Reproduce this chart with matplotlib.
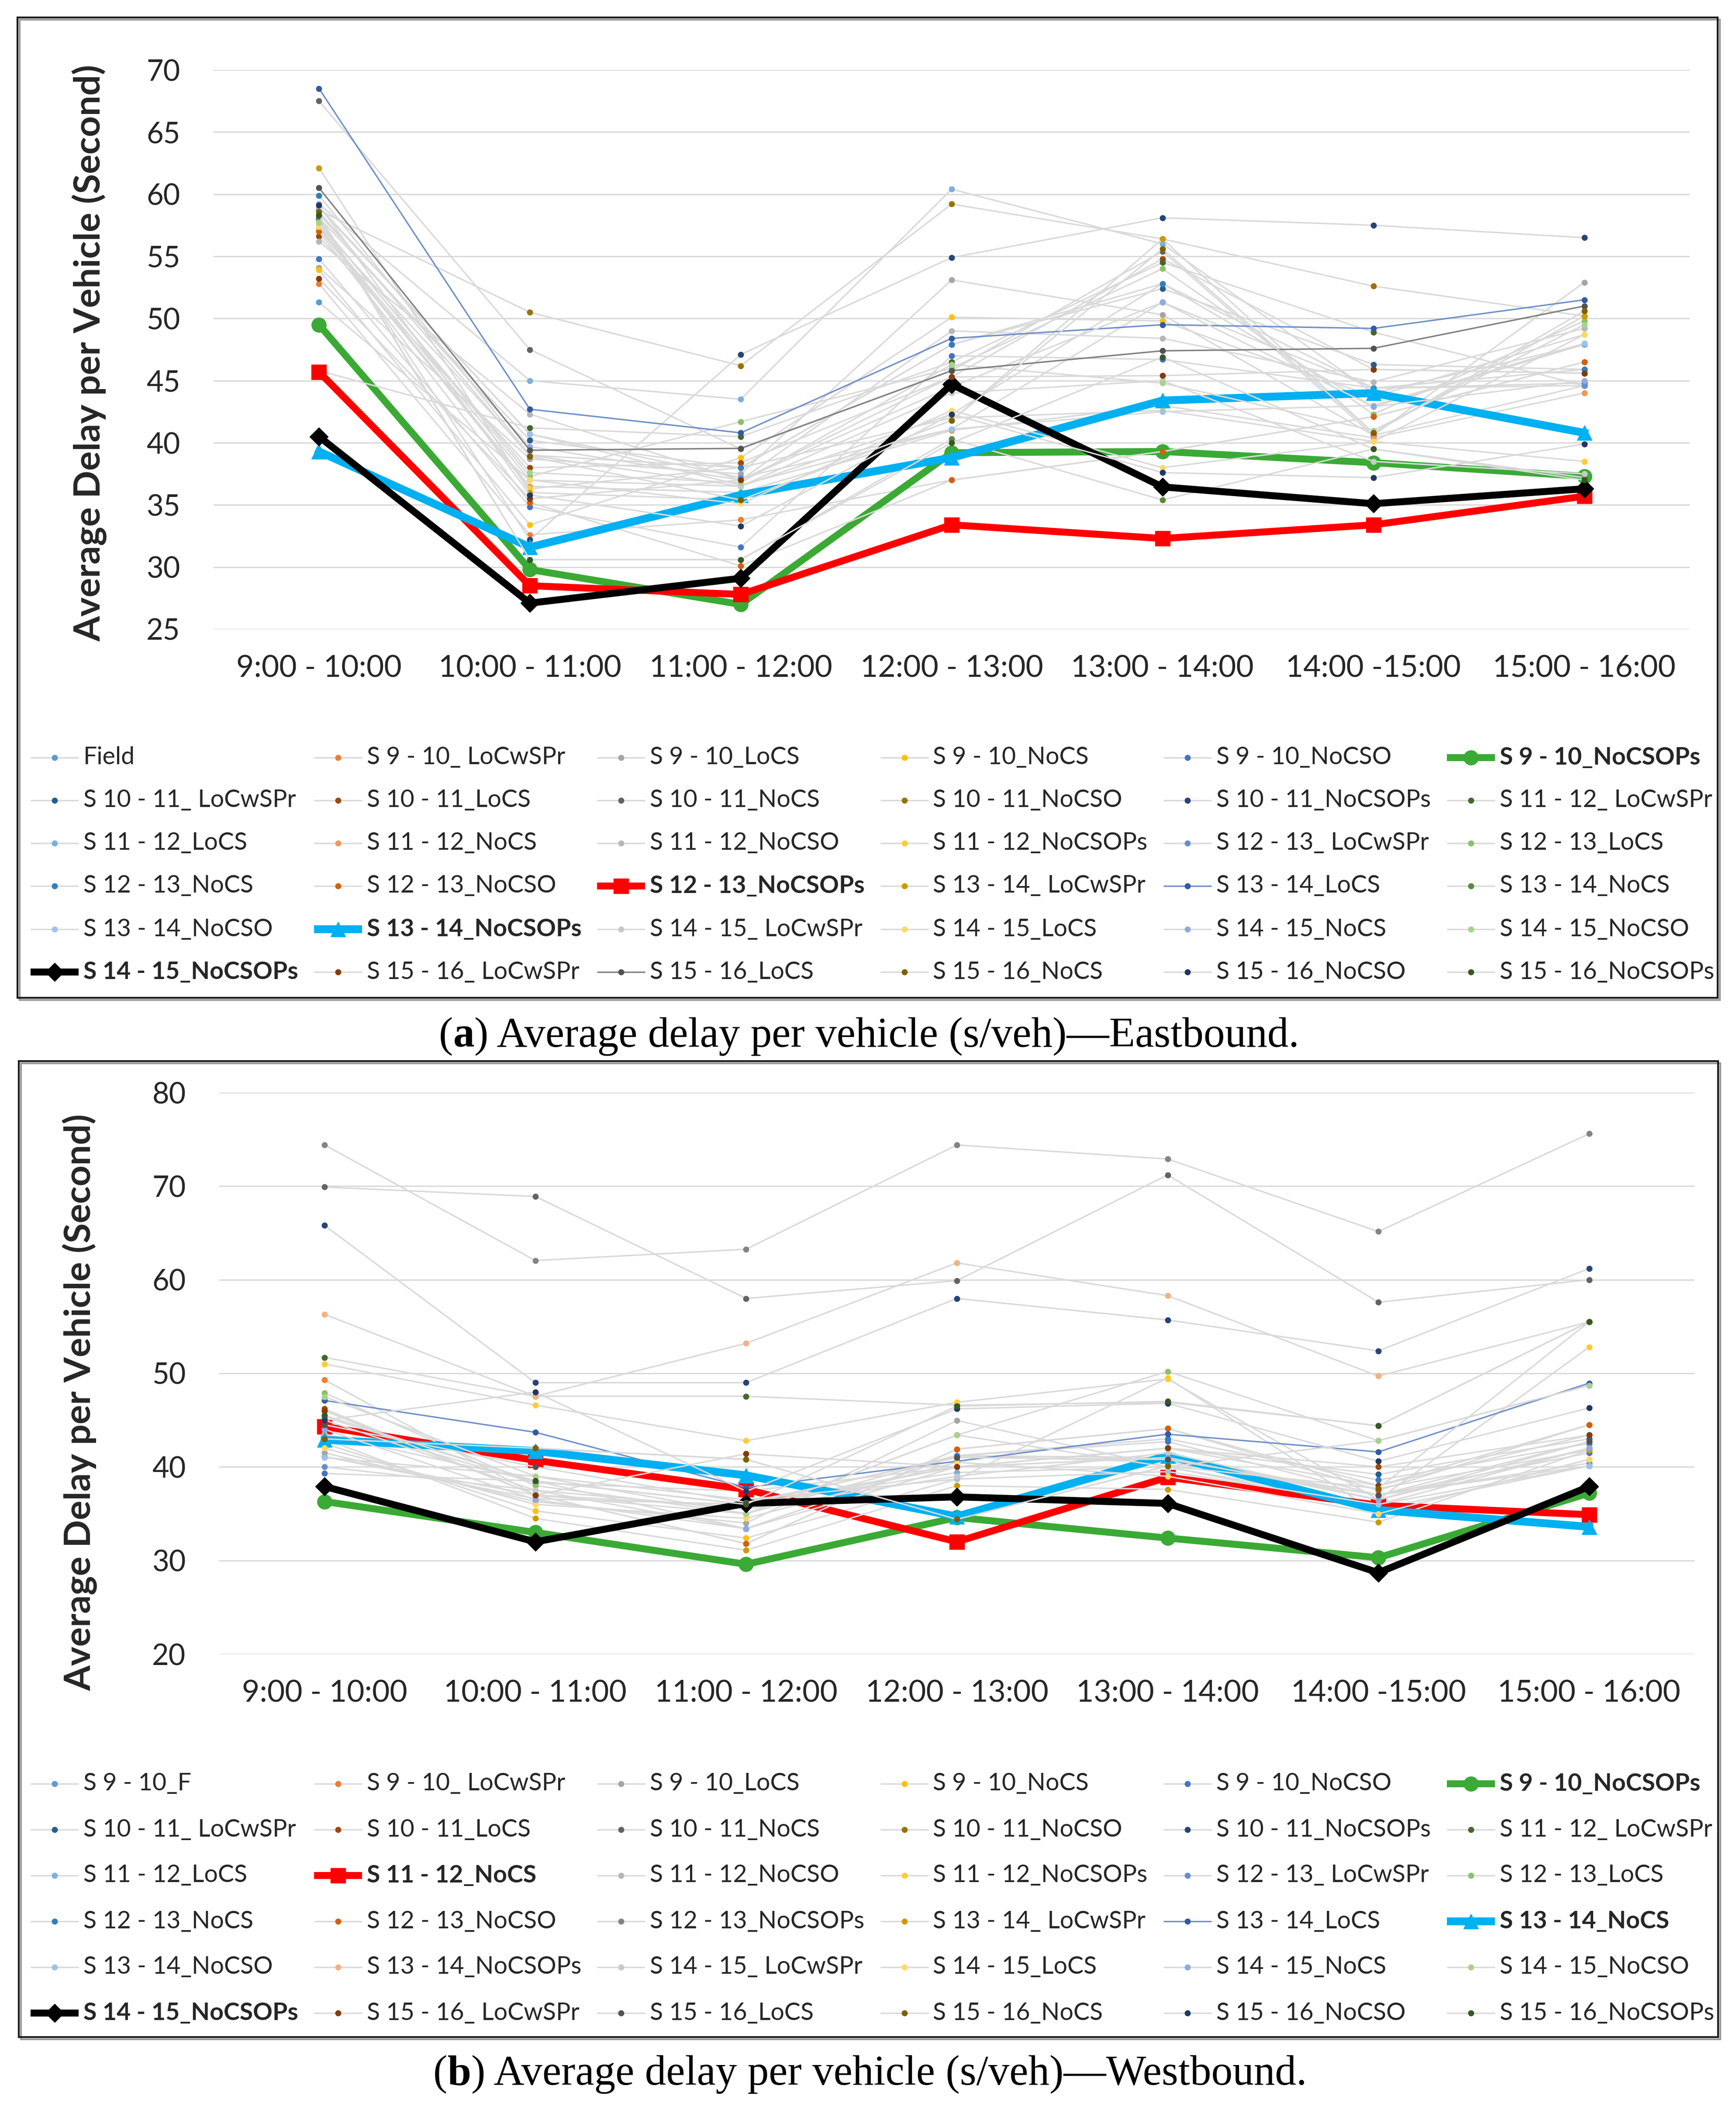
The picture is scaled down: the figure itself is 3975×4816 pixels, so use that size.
import matplotlib
matplotlib.use("Agg")
import matplotlib.pyplot as plt
from matplotlib.patches import Rectangle

plt.rcParams['font.family'] = ['Lato', 'DejaVu Sans']

W, H = 3975, 4816

# ---- data ----
periods = ["9:00 - 10:00", "10:00 - 11:00", "11:00 - 12:00", "12:00 - 13:00",
           "13:00 - 14:00", "14:00 -15:00", "15:00 - 16:00"]

scenarios = ["LoCwSPr", "LoCS", "NoCS", "NoCSO", "NoCSOPs"]


def scenario_labels(first):
    out = [first]
    for h in range(9, 16):
        for s in scenarios:
            sep = "_ " if s == "LoCwSPr" else "_"
            out.append(f"S {h} - {h + 1}{sep}{s}")
    return out


east_labels = scenario_labels("Field")
west_labels = scenario_labels("S 9 - 10_F")

# Eastbound, one row per series (legend order)
east_delay = [
    [51.3, 37.0, 36.5, 42.3, 52.8, 42.9, 47.9],
    [52.8, 32.6, 33.8, 37.0, 39.3, 42.1, 46.5],
    [54.1, 38.7, 37.5, 53.1, 50.3, 40.6, 52.9],
    [53.9, 33.4, 38.8, 50.1, 49.8, 43.7, 48.7],
    [54.8, 34.85, 31.6, 47.0, 46.7, 44.4, 44.8],
    [49.5, 29.8, 27.0, 39.2, 39.3, 38.4, 37.3],
    [58.1, 40.2, 38.0, 47.9, 52.4, 46.3, 45.9],
    [56.6, 38.0, 38.4, 45.3, 54.8, 45.9, 45.6],
    [67.5, 47.5, 39.5, 45.8, 55.4, 40.6, 44.6],
    [58.7, 50.5, 46.2, 59.2, 56.4, 52.6, 50.2],
    [58.0, 32.2, 47.1, 54.9, 58.1, 57.5, 56.5],
    [45.8, 41.2, 40.5, 46.5, 54.5, 48.9, 44.6],
    [59.2, 45.0, 43.5, 60.4, 56.0, 44.0, 47.9],
    [57.3, 36.5, 36.0, 41.0, 43.0, 40.4, 44.0],
    [56.2, 42.3, 37.0, 49.0, 48.4, 44.9, 49.2],
    [57.2, 36.3, 38.0, 42.0, 42.6, 40.1, 38.5],
    [58.9, 40.7, 37.2, 41.1, 51.3, 44.4, 44.6],
    [57.8, 37.3, 41.7, 46.0, 54.0, 42.3, 49.8],
    [59.9, 39.0, 38.0, 47.9, 52.8, 44.4, 45.9],
    [57.0, 35.2, 30.1, 37.0, 39.3, 42.1, 46.5],
    [45.7, 28.5, 27.8, 33.4, 32.3, 33.4, 35.7],
    [62.1, 36.0, 35.4, 41.8, 56.4, 40.8, 50.2],
    [68.5, 42.7, 40.8, 48.4, 49.5, 49.2, 51.5],
    [58.2, 30.6, 30.6, 40.3, 35.4, 39.5, 37.2],
    [59.0, 40.7, 36.6, 41.1, 42.5, 43.0, 48.0],
    [39.3, 31.6, 35.8, 38.8, 43.4, 44.0, 40.8],
    [57.5, 39.0, 36.5, 44.0, 45.0, 38.5, 37.5],
    [57.4, 37.0, 35.1, 42.6, 38.0, 40.1, 48.7],
    [58.4, 39.7, 37.0, 44.5, 51.3, 42.9, 45.0],
    [57.7, 37.6, 36.8, 46.3, 44.8, 41.0, 49.5],
    [40.5, 27.1, 29.1, 44.7, 36.45, 35.1, 36.3],
    [53.2, 35.5, 37.0, 45.3, 45.4, 45.9, 45.6],
    [60.5, 39.4, 39.55, 45.8, 47.4, 47.6, 51.0],
    [58.6, 38.9, 35.4, 41.8, 55.6, 40.8, 50.6],
    [59.1, 35.8, 33.3, 42.3, 37.6, 37.2, 39.9],
    [58.3, 30.6, 30.6, 40.0, 46.9, 39.5, 37.0],
]

# Westbound, one row per series (legend order)
west_delay = [
    [41.1, 37.0, 35.0, 41.2, 40.5, 37.0, 40.1],
    [49.3, 37.0, 31.8, 41.9, 44.1, 38.0, 44.5],
    [41.5, 36.3, 34.0, 44.95, 40.0, 36.0, 42.0],
    [42.5, 35.3, 32.4, 38.7, 49.5, 35.0, 40.8],
    [39.3, 38.5, 33.4, 41.2, 42.7, 37.0, 41.5],
    [36.3, 33.0, 29.6, 34.6, 32.4, 30.3, 37.2],
    [44.8, 38.3, 37.4, 40.0, 42.0, 39.2, 43.0],
    [46.2, 37.0, 35.7, 40.0, 42.0, 40.0, 43.4],
    [69.9, 68.9, 58.0, 59.9, 71.2, 57.6, 60.0],
    [43.0, 42.0, 40.8, 34.4, 40.1, 37.7, 41.8],
    [65.8, 49.0, 49.0, 58.0, 55.7, 52.4, 61.2],
    [51.7, 47.55, 47.55, 46.6, 46.9, 44.4, 55.5],
    [41.1, 36.6, 36.0, 39.4, 40.0, 35.5, 40.1],
    [44.3, 40.7, 37.6, 32.0, 38.9, 35.9, 34.9],
    [43.5, 38.5, 36.0, 40.0, 41.0, 36.5, 42.0],
    [51.0, 46.6, 42.8, 46.9, 49.4, 36.5, 52.8],
    [40.0, 37.5, 33.4, 41.2, 41.0, 37.0, 40.4],
    [47.9, 38.0, 35.0, 43.4, 50.2, 42.8, 48.7],
    [45.3, 38.5, 36.0, 41.2, 43.0, 38.6, 42.5],
    [46.0, 37.0, 31.8, 41.9, 44.1, 37.5, 44.5],
    [74.4, 62.05, 63.26, 74.4, 72.9, 65.15, 75.6],
    [43.0, 34.5, 31.1, 38.0, 37.6, 34.1, 41.8],
    [47.1, 43.7, 37.8, 40.6, 43.5, 41.6, 48.95],
    [42.9, 41.7, 39.1, 34.7, 41.2, 35.4, 33.6],
    [41.0, 39.0, 36.5, 38.7, 39.5, 36.0, 40.1],
    [56.3, 47.55, 53.2, 61.8, 58.3, 49.7, 55.5],
    [45.0, 37.5, 35.5, 39.0, 41.5, 36.5, 42.7],
    [42.0, 36.0, 34.5, 40.5, 39.0, 35.0, 40.8],
    [44.0, 36.5, 33.4, 40.0, 41.0, 36.5, 42.0],
    [47.5, 39.0, 35.0, 43.4, 40.0, 42.8, 48.7],
    [37.9, 32.0, 36.1, 36.8, 36.1, 28.7, 37.9],
    [46.0, 37.0, 41.4, 40.0, 42.0, 38.0, 43.4],
    [44.5, 40.0, 36.2, 41.0, 40.8, 37.0, 42.7],
    [43.0, 42.0, 40.8, 34.4, 40.1, 37.7, 55.5],
    [45.0, 48.0, 37.4, 46.2, 46.8, 40.6, 46.3],
    [45.5, 38.5, 36.0, 46.5, 47.0, 44.4, 55.5],
]

# Excel-like series colours
palette = ["#5B9BD5", "#ED7D31", "#A5A5A5", "#FFC000", "#4472C4", "#70AD47",
           "#255E91", "#9E480E", "#636363", "#997300", "#264478", "#43682B",
           "#7CAFDD", "#F1975A", "#B7B7B7", "#FFCD33", "#698ED0", "#8CC168",
           "#327DC2", "#D26012", "#848484", "#CC9A00", "#335AA1", "#5A8A39",
           "#9DC3E6", "#F4B183", "#C9C9C9", "#FFD966", "#8FAADC", "#A9D18E",
           "#1F4E79", "#843C0C", "#525252", "#7F6000", "#203864", "#385723"]

GREEN, RED, CYAN, BLACK = "#3AAA35", "#FF0000", "#00B0F0", "#000000"
east_highlight = {5: (GREEN, "o"), 20: (RED, "s"), 25: (CYAN, "^"), 30: (BLACK, "D")}
west_highlight = {5: (GREEN, "o"), 13: (RED, "s"), 23: (CYAN, "^"), 30: (BLACK, "D")}
east_lines = {22: "#7090C8", 32: "#808080"}
west_lines = {22: "#7090C8"}

GREY_LINE = "#D9D9D9"
TXT = "#262626"


def series_style(i, highlight, lines):
    if i in highlight:
        c, m = highlight[i]
        ms = 24 if m != "D" else 21
        lw = 13 if c == CYAN else 11.5
        return dict(color=c, lw=lw, marker=m, ms=ms, mfc=c, mec=c)
    return dict(color=lines.get(i, GREY_LINE), lw=2.4, marker="o", ms=9,
                mfc=palette[i], mec=palette[i])


def draw_panel(ax, delay, highlight, lines, ylim, yticks):
    x = list(range(len(periods)))
    for i, vals in enumerate(delay):
        ax.plot(x, vals, solid_joinstyle="round", **series_style(i, highlight, lines))
    ax.set_xlim(-0.5, len(periods) - 0.5)
    ax.set_ylim(*ylim)
    ax.set_yticks(yticks)
    ax.set_xticks(x)
    ax.set_xticklabels(periods)
    ax.yaxis.grid(True, color="#D9D9D9", lw=2.2)
    ax.set_axisbelow(True)
    for s in ax.spines.values():
        s.set_visible(False)
    ax.tick_params(axis="both", length=0, labelsize=48, labelcolor=TXT)
    ax.tick_params(axis="x", labelsize=50, pad=42)
    ax.tick_params(axis="y", pad=55)


def draw_legend(ov, labels, highlight, lines, rows):
    for i, lab in enumerate(labels):
        r, c = divmod(i, 6)
        y = rows[r]
        x0 = 70 + 648.5 * c
        st = series_style(i, highlight, lines)
        ov.plot([x0, x0 + 110], [y, y], color=st["color"], lw=st["lw"],
                solid_capstyle="butt")
        ov.plot([x0 + 55], [y], marker=st["marker"], ms=st["ms"],
                mfc=st["mfc"], mec=st["mec"], ls="none")
        ov.text(x0 + 121, y, lab, va="center", ha="left", fontsize=40,
                color=TXT, fontweight="bold" if i in highlight else "normal")


def caption(ov, fig, letter, rest, cx, cy):
    kw = dict(fontsize=70, family="Liberation Serif", color="black")
    t1 = ov.text(0, cy, "(", va="baseline", ha="left", **kw)
    t2 = ov.annotate(letter, xy=(1, 0), xycoords=t1, va="bottom", ha="left",
                     fontweight="bold", **kw)
    t3 = ov.annotate(") " + rest, xy=(1, 0), xycoords=t2, va="bottom", ha="left", **kw)
    fig.canvas.draw()
    rend = fig.canvas.get_renderer()
    left = t1.get_window_extent(rend).x0
    right = t3.get_window_extent(rend).x1
    t1.set_x(cx - (right - left) / 2)


fig = plt.figure(figsize=(W / 100, H / 100), dpi=100)

ax_a = fig.add_axes([489 / W, 1 - 1441 / H, 3380 / W, 1281 / H])
draw_panel(ax_a, east_delay, east_highlight, east_lines, (25, 70), range(25, 71, 5))

ax_b = fig.add_axes([502 / W, 1 - 3788 / H, 3378 / W, 1286 / H])
draw_panel(ax_b, west_delay, west_highlight, west_lines, (20, 80), range(20, 81, 10))

# overlay in pixel coordinates for frames, legends, labels and captions
ov = fig.add_axes([0, 0, 1, 1])
ov.set_xlim(0, W)
ov.set_ylim(H, 0)
ov.set_axis_off()

for (x0, y0, x1, y1) in [(40, 40, 3933, 2285), (43, 2430, 3934, 4665)]:
    ov.add_patch(Rectangle((x0 + 5, y0 + 5), x1 - x0, y1 - y0, fill=False,
                           lw=3, edgecolor="#9A9A9A"))
    ov.add_patch(Rectangle((x0, y0), x1 - x0, y1 - y0, fill=False,
                           lw=3, edgecolor="#1A1A1A", facecolor="none"))

ylab = "Average Delay per Vehicle (Second)"
ov.text(205, 808, ylab, rotation=90, ha="center", va="center", fontsize=60,
        fontweight="bold", color=TXT)
ov.text(183, 3211, ylab, rotation=90, ha="center", va="center", fontsize=60,
        fontweight="bold", color=TXT)

draw_legend(ov, east_labels, east_highlight, east_lines,
            [1735, 1833, 1931, 2029, 2128, 2226])
draw_legend(ov, west_labels, west_highlight, west_lines,
            [4085, 4190, 4295, 4400, 4505, 4610])

caption(ov, fig, "a", "Average delay per vehicle (s/veh)\u2014Eastbound.", 1990, 2397)
caption(ov, fig, "b", "Average delay per vehicle (s/veh)\u2014Westbound.", 1992, 4774)

fig.savefig("out.png", dpi=100)
